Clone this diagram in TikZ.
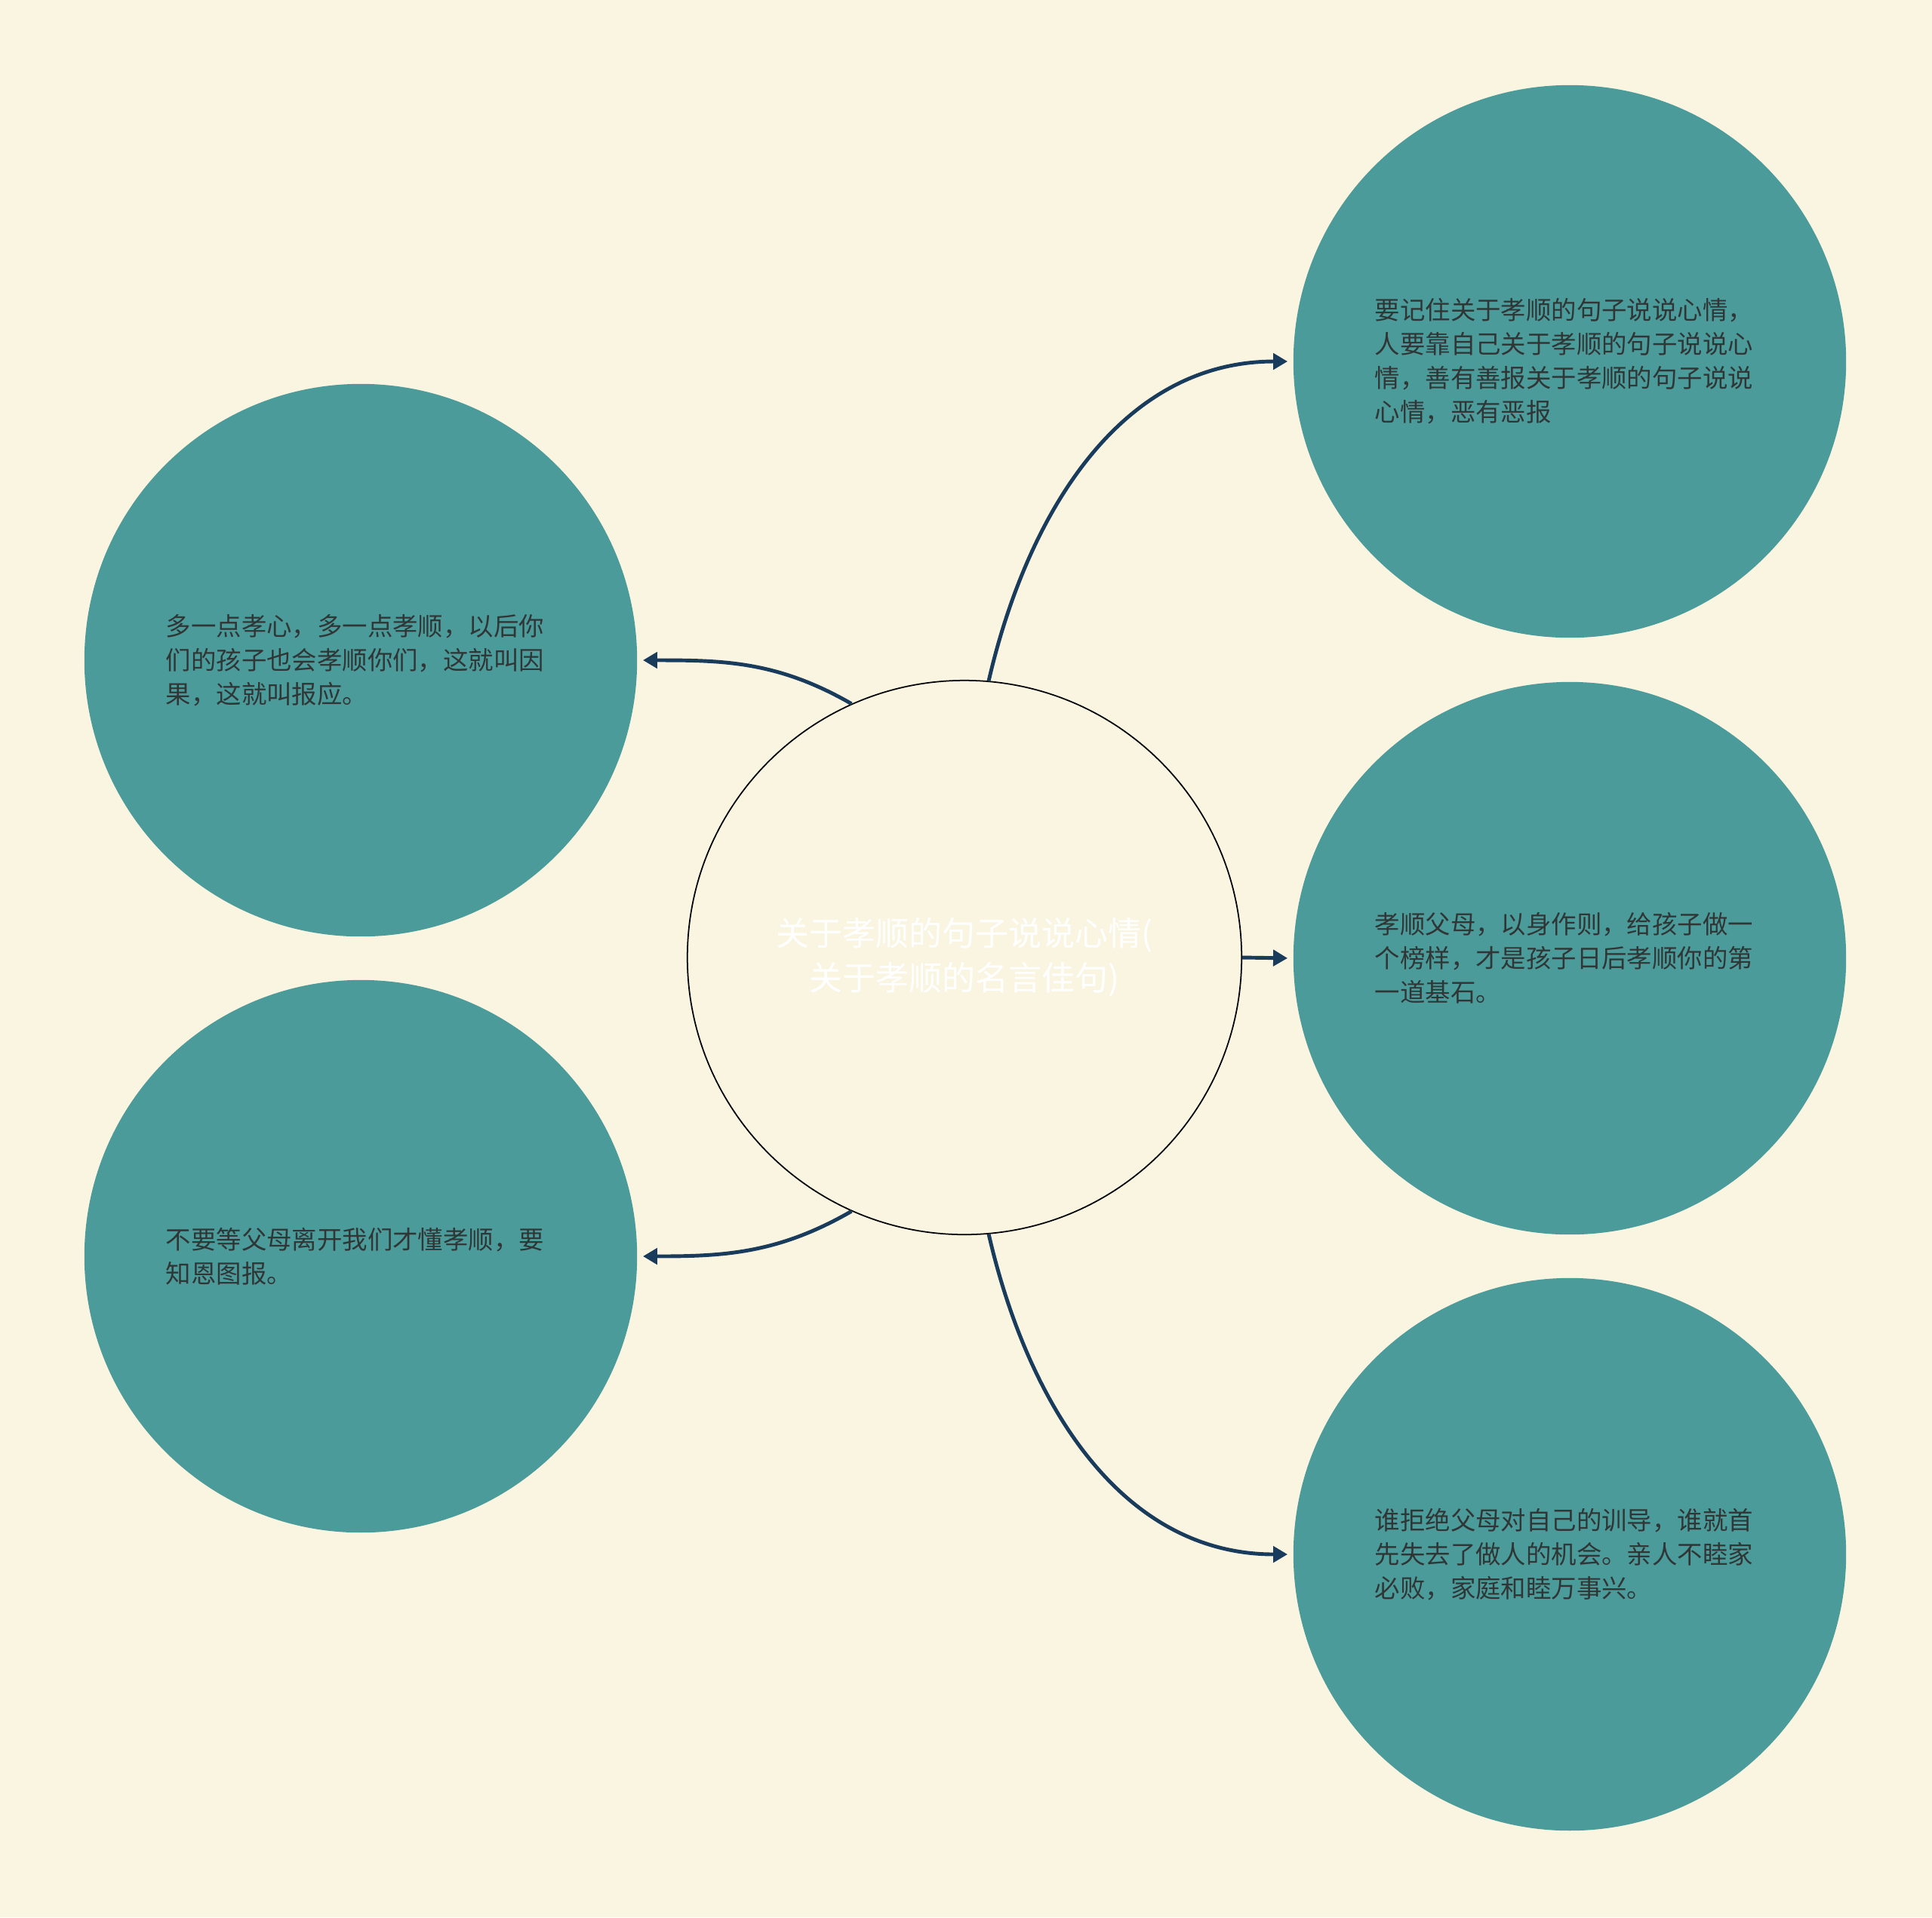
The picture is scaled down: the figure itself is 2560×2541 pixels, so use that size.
\documentclass[tikz,border=0pt]{standalone}
\usepackage{fontspec}
\setmainfont{Noto Sans CJK SC}
\usetikzlibrary{arrows.meta}
\definecolor{paper}{HTML}{FAF5E1}
\definecolor{leafteal}{HTML}{4C9B9B}
\definecolor{linkblue}{HTML}{1A3C5C}
\definecolor{inktext}{HTML}{2F3635}
\tikzset{%
    root/.style={
      circle,
      draw=black,
      line width=0.5pt,
      fill=paper,
      minimum size=7.34cm,
      inner sep=0pt,
      text=white,
      align=center,
      font=\fontsize{12.5pt}{16.8pt}\selectfont
    },
    leaf/.style={
      circle,
      fill=leafteal,
      minimum size=7.32cm,
      inner sep=0pt,
      text width=5.16cm,
      text=inktext,
      align=left,
      font=\fontsize{9.5pt}{12.8pt}\selectfont
    },
    link/.style={
      ->,
      draw=linkblue,
      line width=1.4pt,
      shorten >=0.07cm
    }
  }
\begin{document}
\begin{tikzpicture}[x=0.01cm, y=0.01cm, >={Triangle[length=0.19cm, width=0.21cm]}]
      \fill [paper] (0,0) rectangle (2560,-2541);
      \useasboundingbox (0,0) rectangle (2560,-2541);

      \node [root] (main) at (1278,-1269) {关于孝顺的句子说说心情(\\关于孝顺的名言佳句)};

      \node [leaf] (lt) at (478,-875) {多一点孝心，多一点孝顺，以后你\\们的孩子也会孝顺你们，这就叫因\\果，这就叫报应。};
      \node [leaf] (lb) at (478,-1665) {不要等父母离开我们才懂孝顺，要\\知恩图报。};

      \node [leaf] (rt) at (2080,-479) {要记住关于孝顺的句子说说心情，\\人要靠自己关于孝顺的句子说说心\\情，善有善报关于孝顺的句子说说\\心情，恶有恶报};
      \node [leaf] (rm) at (2080,-1270) {孝顺父母，以身作则，给孩子做一\\个榜样，才是孩子日后孝顺你的第\\一道基石。};
      \node [leaf] (rb) at (2080,-2060) {谁拒绝父母对自己的训导，谁就首\\先失去了做人的机会。亲人不睦家\\必败，家庭和睦万事兴。};

      \draw [link] (main.85) to [out=77, in=180] (rt.west);
      \draw [link] (main.east) -- (rm.west);
      \draw [link] (main.275) to [out=283, in=180] (rb.west);

      \draw [link] (main.114) to [out=150, in=0] (lt.east);
      \draw [link] (main.246) to [out=210, in=0] (lb.east);
    \end{tikzpicture}
\end{document}
